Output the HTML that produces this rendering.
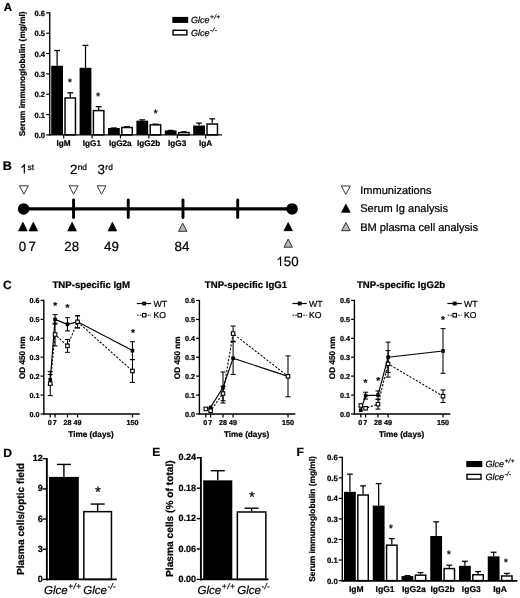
<!DOCTYPE html>
<html><head><meta charset="utf-8"><title>Figure</title>
<style>
html,body{margin:0;padding:0;background:#fff;}
body{width:520px;height:598px;overflow:hidden;}
svg{display:block;will-change:transform;filter:blur(0.4px);}
svg text{font-family:'Liberation Sans',sans-serif;fill:#000;text-rendering:geometricPrecision;stroke:#000;stroke-width:0.22px;}
</style></head><body>
<svg width="520" height="598" viewBox="0 0 520 598">
<rect x="0" y="0" width="520" height="598" fill="#fff"/>
<text x="3.7" y="11.0" style="font-size:11.5px;font-weight:bold;">A</text>
<line x1="57.10" y1="65.74" x2="57.10" y2="50.48" stroke="#000" stroke-width="1.25"/>
<line x1="54.20" y1="50.48" x2="60.00" y2="50.48" stroke="#000" stroke-width="1.25"/>
<rect x="51.20" y="65.74" width="11.80" height="69.16" fill="#000"/>
<line x1="70.25" y1="97.27" x2="70.25" y2="92.79" stroke="#000" stroke-width="1.25"/>
<line x1="67.35" y1="92.79" x2="73.15" y2="92.79" stroke="#000" stroke-width="1.25"/>
<rect x="65.02" y="97.99" width="10.45" height="36.91" fill="#fff" stroke="#000" stroke-width="1.45"/>
<line x1="63.70" y1="134.90" x2="63.70" y2="138.50" stroke="#000" stroke-width="1.2"/>
<text x="63.5" y="146.2" text-anchor="middle" style="font-size:8.2px;font-weight:bold;">IgM</text>
<line x1="85.50" y1="67.77" x2="85.50" y2="45.40" stroke="#000" stroke-width="1.25"/>
<line x1="82.60" y1="45.40" x2="88.40" y2="45.40" stroke="#000" stroke-width="1.25"/>
<rect x="79.60" y="67.77" width="11.80" height="67.13" fill="#000"/>
<line x1="98.65" y1="109.88" x2="98.65" y2="106.63" stroke="#000" stroke-width="1.25"/>
<line x1="95.75" y1="106.63" x2="101.55" y2="106.63" stroke="#000" stroke-width="1.25"/>
<rect x="93.42" y="110.60" width="10.45" height="24.30" fill="#fff" stroke="#000" stroke-width="1.45"/>
<line x1="92.10" y1="134.90" x2="92.10" y2="138.50" stroke="#000" stroke-width="1.2"/>
<text x="91.9" y="146.2" text-anchor="middle" style="font-size:8.2px;font-weight:bold;">IgG1</text>
<line x1="113.90" y1="127.98" x2="113.90" y2="127.98" stroke="#000" stroke-width="1.25"/>
<line x1="111.00" y1="127.98" x2="116.80" y2="127.98" stroke="#000" stroke-width="1.25"/>
<rect x="108.00" y="127.98" width="11.80" height="6.92" fill="#000"/>
<line x1="127.05" y1="126.76" x2="127.05" y2="126.76" stroke="#000" stroke-width="1.25"/>
<line x1="124.15" y1="126.76" x2="129.95" y2="126.76" stroke="#000" stroke-width="1.25"/>
<rect x="121.82" y="127.49" width="10.45" height="7.41" fill="#fff" stroke="#000" stroke-width="1.45"/>
<line x1="120.50" y1="134.90" x2="120.50" y2="138.50" stroke="#000" stroke-width="1.2"/>
<text x="120.3" y="146.2" text-anchor="middle" style="font-size:8.2px;font-weight:bold;">IgG2a</text>
<line x1="142.30" y1="120.66" x2="142.30" y2="119.85" stroke="#000" stroke-width="1.25"/>
<line x1="139.40" y1="119.85" x2="145.20" y2="119.85" stroke="#000" stroke-width="1.25"/>
<rect x="136.40" y="120.66" width="11.80" height="14.24" fill="#000"/>
<line x1="155.45" y1="124.12" x2="155.45" y2="124.12" stroke="#000" stroke-width="1.25"/>
<line x1="152.55" y1="124.12" x2="158.35" y2="124.12" stroke="#000" stroke-width="1.25"/>
<rect x="150.22" y="124.84" width="10.45" height="10.06" fill="#fff" stroke="#000" stroke-width="1.45"/>
<line x1="148.90" y1="134.90" x2="148.90" y2="138.50" stroke="#000" stroke-width="1.2"/>
<text x="148.7" y="146.2" text-anchor="middle" style="font-size:8.2px;font-weight:bold;">IgG2b</text>
<line x1="170.70" y1="130.42" x2="170.70" y2="130.42" stroke="#000" stroke-width="1.25"/>
<line x1="167.80" y1="130.42" x2="173.60" y2="130.42" stroke="#000" stroke-width="1.25"/>
<rect x="164.80" y="130.42" width="11.80" height="4.48" fill="#000"/>
<line x1="183.85" y1="131.85" x2="183.85" y2="131.85" stroke="#000" stroke-width="1.25"/>
<line x1="180.95" y1="131.85" x2="186.75" y2="131.85" stroke="#000" stroke-width="1.25"/>
<rect x="178.62" y="132.57" width="10.45" height="2.33" fill="#fff" stroke="#000" stroke-width="1.45"/>
<line x1="177.30" y1="134.90" x2="177.30" y2="138.50" stroke="#000" stroke-width="1.2"/>
<text x="177.1" y="146.2" text-anchor="middle" style="font-size:8.2px;font-weight:bold;">IgG3</text>
<line x1="199.10" y1="125.54" x2="199.10" y2="123.10" stroke="#000" stroke-width="1.25"/>
<line x1="196.20" y1="123.10" x2="202.00" y2="123.10" stroke="#000" stroke-width="1.25"/>
<rect x="193.20" y="125.54" width="11.80" height="9.36" fill="#000"/>
<line x1="212.25" y1="123.31" x2="212.25" y2="118.83" stroke="#000" stroke-width="1.25"/>
<line x1="209.35" y1="118.83" x2="215.15" y2="118.83" stroke="#000" stroke-width="1.25"/>
<rect x="207.02" y="124.03" width="10.45" height="10.87" fill="#fff" stroke="#000" stroke-width="1.45"/>
<line x1="205.70" y1="134.90" x2="205.70" y2="138.50" stroke="#000" stroke-width="1.2"/>
<text x="205.5" y="146.2" text-anchor="middle" style="font-size:8.2px;font-weight:bold;">IgA</text>
<line x1="49.75" y1="12.23" x2="49.75" y2="135.58" stroke="#000" stroke-width="1.35"/>
<line x1="49.08" y1="134.90" x2="222.00" y2="134.90" stroke="#000" stroke-width="1.35"/>
<line x1="46.15" y1="134.90" x2="49.75" y2="134.90" stroke="#000" stroke-width="1.2"/>
<text x="45.15" y="137.97" text-anchor="end" style="font-size:7.7px;font-weight:bold;">0.0</text>
<line x1="46.15" y1="114.56" x2="49.75" y2="114.56" stroke="#000" stroke-width="1.2"/>
<text x="45.15" y="117.63" text-anchor="end" style="font-size:7.7px;font-weight:bold;">0.1</text>
<line x1="46.15" y1="94.22" x2="49.75" y2="94.22" stroke="#000" stroke-width="1.2"/>
<text x="45.15" y="97.29" text-anchor="end" style="font-size:7.7px;font-weight:bold;">0.2</text>
<line x1="46.15" y1="73.88" x2="49.75" y2="73.88" stroke="#000" stroke-width="1.2"/>
<text x="45.15" y="76.95" text-anchor="end" style="font-size:7.7px;font-weight:bold;">0.3</text>
<line x1="46.15" y1="53.53" x2="49.75" y2="53.53" stroke="#000" stroke-width="1.2"/>
<text x="45.15" y="56.61" text-anchor="end" style="font-size:7.7px;font-weight:bold;">0.4</text>
<line x1="46.15" y1="33.19" x2="49.75" y2="33.19" stroke="#000" stroke-width="1.2"/>
<text x="45.15" y="36.26" text-anchor="end" style="font-size:7.7px;font-weight:bold;">0.5</text>
<line x1="46.15" y1="12.85" x2="49.75" y2="12.85" stroke="#000" stroke-width="1.2"/>
<text x="45.15" y="15.92" text-anchor="end" style="font-size:7.7px;font-weight:bold;">0.6</text>
<text x="70.0" y="86.36" text-anchor="middle" style="font-size:11px;">*</text>
<text x="98.2" y="100.36" text-anchor="middle" style="font-size:11px;">*</text>
<text x="155.6" y="117.16" text-anchor="middle" style="font-size:11px;">*</text>
<text x="24.8" y="73.88" text-anchor="middle" style="font-size:8.3px;font-weight:bold;" transform="rotate(-90 24.8 73.88)">Serum immunoglobulin (mg/ml)</text>
<rect x="172.3" y="16.9" width="15.9" height="6.0" fill="#000"/>
<rect x="173.00" y="30.30" width="13.90" height="4.60" fill="#fff" stroke="#000" stroke-width="1.4"/>
<text x="191.0" y="23.0" style="font-size:9px;font-style:italic;">Glce<tspan dx="0.6" dy="-3.8" style="font-size:6.5px;letter-spacing:0.3px">+/+</tspan></text>
<text x="191.0" y="35.7" style="font-size:9px;font-style:italic;">Glce<tspan dx="0.6" dy="-3.8" style="font-size:6.5px;letter-spacing:0.3px">-/-</tspan></text>
<text x="2.7" y="170.4" style="font-size:12.5px;font-weight:bold;">B</text>
<path d="M24.33,173.60 V164.01 h-0.88 q-0.67,1.47 -2.68,2.68 v1.24 q1.34,-0.54 2.39,-1.54 V173.60 Z" fill="#000" transform="translate(0.59,0)"/>
<text x="27.45" y="169.7" style="font-size:8.4px">st</text>
<text x="69.9" y="173.6" style="font-size:13.4px">2<tspan dx="0.3" dy="-3.9" style="font-size:8.4px">nd</tspan></text>
<text x="97.6" y="173.6" style="font-size:13.4px">3<tspan dx="0.3" dy="-3.9" style="font-size:8.4px">rd</tspan></text>
<polygon points="19.40,185.80 28.40,185.80 23.90,194.20" fill="#fff" stroke="#222" stroke-width="0.9"/>
<polygon points="69.10,185.80 78.10,185.80 73.60,194.20" fill="#fff" stroke="#222" stroke-width="0.9"/>
<polygon points="97.00,185.80 106.00,185.80 101.50,194.20" fill="#fff" stroke="#222" stroke-width="0.9"/>
<line x1="23.60" y1="208.95" x2="292.10" y2="208.95" stroke="#000" stroke-width="3.3"/>
<circle cx="23.6" cy="208.95" r="5.8" fill="#000"/>
<circle cx="292.1" cy="208.95" r="5.8" fill="#000"/>
<line x1="73.55" y1="200.00" x2="73.55" y2="217.60" stroke="#000" stroke-width="2.9" stroke-linecap="round"/>
<line x1="128.27" y1="200.00" x2="128.27" y2="217.60" stroke="#000" stroke-width="2.9" stroke-linecap="round"/>
<line x1="182.98" y1="200.00" x2="182.98" y2="217.60" stroke="#000" stroke-width="2.9" stroke-linecap="round"/>
<line x1="237.70" y1="200.00" x2="237.70" y2="217.60" stroke="#000" stroke-width="2.9" stroke-linecap="round"/>
<polygon points="18.60,230.90 27.20,230.90 22.90,222.30" fill="#000" stroke="#000" stroke-width="0.8"/>
<polygon points="29.00,230.90 37.60,230.90 33.30,222.30" fill="#000" stroke="#000" stroke-width="0.8"/>
<polygon points="67.80,230.90 76.40,230.90 72.10,222.30" fill="#000" stroke="#000" stroke-width="0.8"/>
<polygon points="108.10,230.90 116.70,230.90 112.40,222.30" fill="#000" stroke="#000" stroke-width="0.8"/>
<polygon points="178.50,231.30 186.90,231.30 182.70,223.20" fill="#b8b8b8" stroke="#333" stroke-width="1.0"/>
<polygon points="284.00,230.70 292.40,230.70 288.20,222.60" fill="#000" stroke="#000" stroke-width="0.8"/>
<polygon points="284.00,247.20 292.40,247.20 288.20,239.00" fill="#b8b8b8" stroke="#333" stroke-width="1.0"/>
<text x="22.4" y="251.4" text-anchor="middle" style="font-size:13.3px;">0</text>
<text x="32.2" y="251.4" text-anchor="middle" style="font-size:13.3px;">7</text>
<text x="71.7" y="251.4" text-anchor="middle" style="font-size:13.3px;">28</text>
<text x="111.4" y="251.4" text-anchor="middle" style="font-size:13.3px;">49</text>
<text x="181.9" y="251.4" text-anchor="middle" style="font-size:13.3px;">84</text>
<path d="M280.59,266.00 V256.48 h-0.88 q-0.67,1.46 -2.66,2.66 v1.23 q1.33,-0.53 2.37,-1.53 V266.00 Z" fill="#000" transform="translate(0.59,0)"/>
<text x="283.8" y="266.0" style="font-size:13.3px;">50</text>
<polygon points="341.30,186.00 350.30,186.00 345.80,194.40" fill="#fff" stroke="#222" stroke-width="0.9"/>
<polygon points="341.60,212.30 350.20,212.30 345.90,204.20" fill="#000" stroke="#000" stroke-width="0.8"/>
<polygon points="341.60,230.70 350.20,230.70 345.90,222.60" fill="#b8b8b8" stroke="#333" stroke-width="1.0"/>
<text x="360.2" y="193.8" style="font-size:11.05px;">Immunizations</text>
<text x="360.2" y="212.4" style="font-size:11.05px;">Serum Ig analysis</text>
<text x="360.2" y="230.7" style="font-size:11.05px;">BM plasma cell analysis</text>
<text x="2.9" y="288.6" style="font-size:12px;font-weight:bold;">C</text>
<polyline points="50.25,383.61 55.05,334.51 67.45,345.87 77.55,321.84 132.45,371.04" fill="none" stroke="#000" stroke-width="1.05" stroke-dasharray="2.2 1.5"/>
<polyline points="50.25,379.75 55.05,319.38 67.45,324.30 77.55,321.84 132.45,350.60" fill="none" stroke="#000" stroke-width="1.15"/>
<line x1="50.25" y1="385.04" x2="50.25" y2="374.45" stroke="#000" stroke-width="1.05"/>
<line x1="47.75" y1="374.45" x2="52.75" y2="374.45" stroke="#000" stroke-width="1.05"/>
<line x1="47.75" y1="385.04" x2="52.75" y2="385.04" stroke="#000" stroke-width="1.05"/>
<line x1="55.05" y1="324.11" x2="55.05" y2="314.64" stroke="#000" stroke-width="1.05"/>
<line x1="52.55" y1="314.64" x2="57.55" y2="314.64" stroke="#000" stroke-width="1.05"/>
<line x1="52.55" y1="324.11" x2="57.55" y2="324.11" stroke="#000" stroke-width="1.05"/>
<line x1="67.45" y1="330.92" x2="67.45" y2="317.67" stroke="#000" stroke-width="1.05"/>
<line x1="64.95" y1="317.67" x2="69.95" y2="317.67" stroke="#000" stroke-width="1.05"/>
<line x1="64.95" y1="330.92" x2="69.95" y2="330.92" stroke="#000" stroke-width="1.05"/>
<line x1="77.55" y1="327.89" x2="77.55" y2="315.78" stroke="#000" stroke-width="1.05"/>
<line x1="75.05" y1="315.78" x2="80.05" y2="315.78" stroke="#000" stroke-width="1.05"/>
<line x1="75.05" y1="327.89" x2="80.05" y2="327.89" stroke="#000" stroke-width="1.05"/>
<line x1="132.45" y1="359.50" x2="132.45" y2="341.71" stroke="#000" stroke-width="1.05"/>
<line x1="129.95" y1="341.71" x2="134.95" y2="341.71" stroke="#000" stroke-width="1.05"/>
<line x1="129.95" y1="359.50" x2="134.95" y2="359.50" stroke="#000" stroke-width="1.05"/>
<line x1="50.25" y1="395.62" x2="50.25" y2="371.59" stroke="#000" stroke-width="1.05"/>
<line x1="47.75" y1="371.59" x2="52.75" y2="371.59" stroke="#000" stroke-width="1.05"/>
<line x1="47.75" y1="395.62" x2="52.75" y2="395.62" stroke="#000" stroke-width="1.05"/>
<line x1="55.05" y1="345.87" x2="55.05" y2="323.16" stroke="#000" stroke-width="1.05"/>
<line x1="52.55" y1="323.16" x2="57.55" y2="323.16" stroke="#000" stroke-width="1.05"/>
<line x1="52.55" y1="345.87" x2="57.55" y2="345.87" stroke="#000" stroke-width="1.05"/>
<line x1="67.45" y1="352.30" x2="67.45" y2="339.44" stroke="#000" stroke-width="1.05"/>
<line x1="64.95" y1="339.44" x2="69.95" y2="339.44" stroke="#000" stroke-width="1.05"/>
<line x1="64.95" y1="352.30" x2="69.95" y2="352.30" stroke="#000" stroke-width="1.05"/>
<line x1="77.55" y1="327.89" x2="77.55" y2="315.78" stroke="#000" stroke-width="1.05"/>
<line x1="75.05" y1="315.78" x2="80.05" y2="315.78" stroke="#000" stroke-width="1.05"/>
<line x1="75.05" y1="327.89" x2="80.05" y2="327.89" stroke="#000" stroke-width="1.05"/>
<line x1="132.45" y1="382.40" x2="132.45" y2="359.69" stroke="#000" stroke-width="1.05"/>
<line x1="129.95" y1="359.69" x2="134.95" y2="359.69" stroke="#000" stroke-width="1.05"/>
<line x1="129.95" y1="382.40" x2="134.95" y2="382.40" stroke="#000" stroke-width="1.05"/>
<rect x="48.45" y="377.95" width="3.6" height="3.6" fill="#000"/>
<rect x="53.25" y="317.57" width="3.6" height="3.6" fill="#000"/>
<rect x="65.65" y="322.50" width="3.6" height="3.6" fill="#000"/>
<rect x="75.75" y="320.04" width="3.6" height="3.6" fill="#000"/>
<rect x="130.65" y="348.80" width="3.6" height="3.6" fill="#000"/>
<rect x="48.50" y="381.86" width="3.50" height="3.50" fill="#fff" stroke="#000" stroke-width="1.1"/>
<rect x="53.30" y="332.76" width="3.50" height="3.50" fill="#fff" stroke="#000" stroke-width="1.1"/>
<rect x="65.70" y="344.12" width="3.50" height="3.50" fill="#fff" stroke="#000" stroke-width="1.1"/>
<rect x="75.80" y="320.09" width="3.50" height="3.50" fill="#fff" stroke="#000" stroke-width="1.1"/>
<rect x="130.70" y="369.29" width="3.50" height="3.50" fill="#fff" stroke="#000" stroke-width="1.1"/>
<line x1="43.85" y1="299.83" x2="43.85" y2="414.70" stroke="#000" stroke-width="1.4"/>
<line x1="43.15" y1="414.00" x2="139.75" y2="414.00" stroke="#000" stroke-width="1.4"/>
<line x1="40.55" y1="414.00" x2="43.85" y2="414.00" stroke="#000" stroke-width="1.25"/>
<text x="39.55" y="416.7" text-anchor="end" style="font-size:7.2px;font-weight:bold;">0.0</text>
<line x1="40.55" y1="395.07" x2="43.85" y2="395.07" stroke="#000" stroke-width="1.25"/>
<text x="39.55" y="397.77" text-anchor="end" style="font-size:7.2px;font-weight:bold;">0.1</text>
<line x1="40.55" y1="376.15" x2="43.85" y2="376.15" stroke="#000" stroke-width="1.25"/>
<text x="39.55" y="378.85" text-anchor="end" style="font-size:7.2px;font-weight:bold;">0.2</text>
<line x1="40.55" y1="357.22" x2="43.85" y2="357.22" stroke="#000" stroke-width="1.25"/>
<text x="39.55" y="359.92" text-anchor="end" style="font-size:7.2px;font-weight:bold;">0.3</text>
<line x1="40.55" y1="338.30" x2="43.85" y2="338.30" stroke="#000" stroke-width="1.25"/>
<text x="39.55" y="341.0" text-anchor="end" style="font-size:7.2px;font-weight:bold;">0.4</text>
<line x1="40.55" y1="319.38" x2="43.85" y2="319.38" stroke="#000" stroke-width="1.25"/>
<text x="39.55" y="322.07" text-anchor="end" style="font-size:7.2px;font-weight:bold;">0.5</text>
<line x1="40.55" y1="300.45" x2="43.85" y2="300.45" stroke="#000" stroke-width="1.25"/>
<text x="39.55" y="303.15" text-anchor="end" style="font-size:7.2px;font-weight:bold;">0.6</text>
<line x1="50.25" y1="414.00" x2="50.25" y2="417.50" stroke="#000" stroke-width="1.25"/>
<line x1="55.05" y1="414.00" x2="55.05" y2="417.50" stroke="#000" stroke-width="1.25"/>
<line x1="67.45" y1="414.00" x2="67.45" y2="417.50" stroke="#000" stroke-width="1.25"/>
<line x1="77.55" y1="414.00" x2="77.55" y2="417.50" stroke="#000" stroke-width="1.25"/>
<line x1="132.45" y1="414.00" x2="132.45" y2="417.50" stroke="#000" stroke-width="1.25"/>
<text x="51.75" y="425.0" text-anchor="end" style="font-size:7.2px;font-weight:bold;">0</text>
<text x="52.65" y="425.0" style="font-size:7.2px;font-weight:bold;">7</text>
<text x="67.45" y="425.0" text-anchor="middle" style="font-size:7.2px;font-weight:bold;">28</text>
<text x="77.55" y="425.0" text-anchor="middle" style="font-size:7.2px;font-weight:bold;">49</text>
<text x="132.55" y="425.0" text-anchor="middle" style="font-size:7.2px;font-weight:bold;">150</text>
<text x="91.05" y="436.7" text-anchor="middle" style="font-size:8.2px;font-weight:bold;">Time (days)</text>
<text x="24.55" y="357.73" text-anchor="middle" style="font-size:8.2px;font-weight:bold;" transform="rotate(-90 24.55 357.73)">OD 450 nm</text>
<text x="91.25" y="288.2" text-anchor="middle" style="font-size:9.65px;font-weight:bold;">TNP-specific IgM</text>
<text x="55.2" y="308.7" text-anchor="middle" style="font-size:10px;font-weight:bold;">*</text>
<text x="67.5" y="311.0" text-anchor="middle" style="font-size:10px;font-weight:bold;">*</text>
<text x="132.9" y="335.7" text-anchor="middle" style="font-size:10px;font-weight:bold;">*</text>
<line x1="136.85" y1="303.50" x2="151.15" y2="303.50" stroke="#000" stroke-width="1.2"/>
<rect x="142.25" y="301.60" width="3.8" height="3.8" fill="#000"/>
<text x="153.45" y="306.5" style="font-size:8.8px;">WT</text>
<line x1="137.15" y1="315.20" x2="151.15" y2="315.20" stroke="#000" stroke-width="1.0" stroke-dasharray="1.5 1.15"/>
<rect x="142.40" y="313.45" width="3.50" height="3.50" fill="#fff" stroke="#000" stroke-width="1.1"/>
<text x="153.45" y="318.2" style="font-size:8.6px;">KO</text>
<polyline points="205.80,408.89 210.60,410.78 223.00,393.56 233.10,333.57 288.00,376.34" fill="none" stroke="#000" stroke-width="1.05" stroke-dasharray="2.2 1.5"/>
<polyline points="205.80,409.27 210.60,407.38 223.00,387.50 233.10,358.17 288.00,376.34" fill="none" stroke="#000" stroke-width="1.15"/>
<line x1="223.00" y1="403.02" x2="223.00" y2="371.99" stroke="#000" stroke-width="1.05"/>
<line x1="220.50" y1="371.99" x2="225.50" y2="371.99" stroke="#000" stroke-width="1.05"/>
<line x1="220.50" y1="403.02" x2="225.50" y2="403.02" stroke="#000" stroke-width="1.05"/>
<line x1="233.10" y1="374.45" x2="233.10" y2="341.90" stroke="#000" stroke-width="1.05"/>
<line x1="230.60" y1="341.90" x2="235.60" y2="341.90" stroke="#000" stroke-width="1.05"/>
<line x1="230.60" y1="374.45" x2="235.60" y2="374.45" stroke="#000" stroke-width="1.05"/>
<line x1="288.00" y1="396.78" x2="288.00" y2="355.90" stroke="#000" stroke-width="1.05"/>
<line x1="285.50" y1="355.90" x2="290.50" y2="355.90" stroke="#000" stroke-width="1.05"/>
<line x1="285.50" y1="396.78" x2="290.50" y2="396.78" stroke="#000" stroke-width="1.05"/>
<line x1="223.00" y1="400.75" x2="223.00" y2="386.37" stroke="#000" stroke-width="1.05"/>
<line x1="220.50" y1="386.37" x2="225.50" y2="386.37" stroke="#000" stroke-width="1.05"/>
<line x1="220.50" y1="400.75" x2="225.50" y2="400.75" stroke="#000" stroke-width="1.05"/>
<line x1="233.10" y1="341.14" x2="233.10" y2="326.00" stroke="#000" stroke-width="1.05"/>
<line x1="230.60" y1="326.00" x2="235.60" y2="326.00" stroke="#000" stroke-width="1.05"/>
<line x1="230.60" y1="341.14" x2="235.60" y2="341.14" stroke="#000" stroke-width="1.05"/>
<rect x="204.00" y="407.47" width="3.6" height="3.6" fill="#000"/>
<rect x="208.80" y="405.58" width="3.6" height="3.6" fill="#000"/>
<rect x="221.20" y="385.70" width="3.6" height="3.6" fill="#000"/>
<rect x="231.30" y="356.37" width="3.6" height="3.6" fill="#000"/>
<rect x="286.20" y="374.54" width="3.6" height="3.6" fill="#000"/>
<rect x="204.05" y="407.14" width="3.50" height="3.50" fill="#fff" stroke="#000" stroke-width="1.1"/>
<rect x="208.85" y="409.03" width="3.50" height="3.50" fill="#fff" stroke="#000" stroke-width="1.1"/>
<rect x="221.25" y="391.81" width="3.50" height="3.50" fill="#fff" stroke="#000" stroke-width="1.1"/>
<rect x="231.35" y="331.82" width="3.50" height="3.50" fill="#fff" stroke="#000" stroke-width="1.1"/>
<rect x="286.25" y="374.59" width="3.50" height="3.50" fill="#fff" stroke="#000" stroke-width="1.1"/>
<line x1="199.40" y1="299.83" x2="199.40" y2="414.70" stroke="#000" stroke-width="1.4"/>
<line x1="198.70" y1="414.00" x2="295.30" y2="414.00" stroke="#000" stroke-width="1.4"/>
<line x1="196.10" y1="414.00" x2="199.40" y2="414.00" stroke="#000" stroke-width="1.25"/>
<text x="195.1" y="416.7" text-anchor="end" style="font-size:7.2px;font-weight:bold;">0.0</text>
<line x1="196.10" y1="395.07" x2="199.40" y2="395.07" stroke="#000" stroke-width="1.25"/>
<text x="195.1" y="397.77" text-anchor="end" style="font-size:7.2px;font-weight:bold;">0.1</text>
<line x1="196.10" y1="376.15" x2="199.40" y2="376.15" stroke="#000" stroke-width="1.25"/>
<text x="195.1" y="378.85" text-anchor="end" style="font-size:7.2px;font-weight:bold;">0.2</text>
<line x1="196.10" y1="357.22" x2="199.40" y2="357.22" stroke="#000" stroke-width="1.25"/>
<text x="195.1" y="359.92" text-anchor="end" style="font-size:7.2px;font-weight:bold;">0.3</text>
<line x1="196.10" y1="338.30" x2="199.40" y2="338.30" stroke="#000" stroke-width="1.25"/>
<text x="195.1" y="341.0" text-anchor="end" style="font-size:7.2px;font-weight:bold;">0.4</text>
<line x1="196.10" y1="319.38" x2="199.40" y2="319.38" stroke="#000" stroke-width="1.25"/>
<text x="195.1" y="322.07" text-anchor="end" style="font-size:7.2px;font-weight:bold;">0.5</text>
<line x1="196.10" y1="300.45" x2="199.40" y2="300.45" stroke="#000" stroke-width="1.25"/>
<text x="195.1" y="303.15" text-anchor="end" style="font-size:7.2px;font-weight:bold;">0.6</text>
<line x1="205.80" y1="414.00" x2="205.80" y2="417.50" stroke="#000" stroke-width="1.25"/>
<line x1="210.60" y1="414.00" x2="210.60" y2="417.50" stroke="#000" stroke-width="1.25"/>
<line x1="223.00" y1="414.00" x2="223.00" y2="417.50" stroke="#000" stroke-width="1.25"/>
<line x1="233.10" y1="414.00" x2="233.10" y2="417.50" stroke="#000" stroke-width="1.25"/>
<line x1="288.00" y1="414.00" x2="288.00" y2="417.50" stroke="#000" stroke-width="1.25"/>
<text x="207.3" y="425.0" text-anchor="end" style="font-size:7.2px;font-weight:bold;">0</text>
<text x="208.2" y="425.0" style="font-size:7.2px;font-weight:bold;">7</text>
<text x="223.0" y="425.0" text-anchor="middle" style="font-size:7.2px;font-weight:bold;">28</text>
<text x="233.1" y="425.0" text-anchor="middle" style="font-size:7.2px;font-weight:bold;">49</text>
<text x="288.1" y="425.0" text-anchor="middle" style="font-size:7.2px;font-weight:bold;">150</text>
<text x="246.6" y="436.7" text-anchor="middle" style="font-size:8.2px;font-weight:bold;">Time (days)</text>
<text x="180.1" y="357.73" text-anchor="middle" style="font-size:8.2px;font-weight:bold;" transform="rotate(-90 180.1 357.73)">OD 450 nm</text>
<text x="246.0" y="288.2" text-anchor="middle" style="font-size:9.65px;font-weight:bold;">TNP-specific IgG1</text>
<line x1="292.40" y1="303.50" x2="306.70" y2="303.50" stroke="#000" stroke-width="1.2"/>
<rect x="297.80" y="301.60" width="3.8" height="3.8" fill="#000"/>
<text x="309.0" y="306.5" style="font-size:8.8px;">WT</text>
<line x1="292.70" y1="315.20" x2="306.70" y2="315.20" stroke="#000" stroke-width="1.0" stroke-dasharray="1.5 1.15"/>
<rect x="297.95" y="313.45" width="3.50" height="3.50" fill="#fff" stroke="#000" stroke-width="1.1"/>
<text x="309.0" y="318.2" style="font-size:8.6px;">KO</text>
<polyline points="360.80,405.48 365.60,408.32 378.00,404.16 388.10,363.85 443.00,396.21" fill="none" stroke="#000" stroke-width="1.05" stroke-dasharray="2.2 1.5"/>
<polyline points="360.80,410.21 365.60,395.64 378.00,395.07 388.10,357.23 443.00,350.98" fill="none" stroke="#000" stroke-width="1.15"/>
<line x1="365.60" y1="399.05" x2="365.60" y2="392.24" stroke="#000" stroke-width="1.05"/>
<line x1="363.10" y1="392.24" x2="368.10" y2="392.24" stroke="#000" stroke-width="1.05"/>
<line x1="363.10" y1="399.05" x2="368.10" y2="399.05" stroke="#000" stroke-width="1.05"/>
<line x1="378.00" y1="399.24" x2="378.00" y2="390.91" stroke="#000" stroke-width="1.05"/>
<line x1="375.50" y1="390.91" x2="380.50" y2="390.91" stroke="#000" stroke-width="1.05"/>
<line x1="375.50" y1="399.24" x2="380.50" y2="399.24" stroke="#000" stroke-width="1.05"/>
<line x1="388.10" y1="372.37" x2="388.10" y2="342.08" stroke="#000" stroke-width="1.05"/>
<line x1="385.60" y1="342.08" x2="390.60" y2="342.08" stroke="#000" stroke-width="1.05"/>
<line x1="385.60" y1="372.37" x2="390.60" y2="372.37" stroke="#000" stroke-width="1.05"/>
<line x1="443.00" y1="373.31" x2="443.00" y2="328.65" stroke="#000" stroke-width="1.05"/>
<line x1="440.50" y1="328.65" x2="445.50" y2="328.65" stroke="#000" stroke-width="1.05"/>
<line x1="440.50" y1="373.31" x2="445.50" y2="373.31" stroke="#000" stroke-width="1.05"/>
<line x1="378.00" y1="409.08" x2="378.00" y2="399.24" stroke="#000" stroke-width="1.05"/>
<line x1="375.50" y1="399.24" x2="380.50" y2="399.24" stroke="#000" stroke-width="1.05"/>
<line x1="375.50" y1="409.08" x2="380.50" y2="409.08" stroke="#000" stroke-width="1.05"/>
<line x1="388.10" y1="377.10" x2="388.10" y2="350.60" stroke="#000" stroke-width="1.05"/>
<line x1="385.60" y1="350.60" x2="390.60" y2="350.60" stroke="#000" stroke-width="1.05"/>
<line x1="385.60" y1="377.10" x2="390.60" y2="377.10" stroke="#000" stroke-width="1.05"/>
<line x1="443.00" y1="402.46" x2="443.00" y2="389.97" stroke="#000" stroke-width="1.05"/>
<line x1="440.50" y1="389.97" x2="445.50" y2="389.97" stroke="#000" stroke-width="1.05"/>
<line x1="440.50" y1="402.46" x2="445.50" y2="402.46" stroke="#000" stroke-width="1.05"/>
<rect x="359.00" y="408.41" width="3.6" height="3.6" fill="#000"/>
<rect x="363.80" y="393.84" width="3.6" height="3.6" fill="#000"/>
<rect x="376.20" y="393.27" width="3.6" height="3.6" fill="#000"/>
<rect x="386.30" y="355.43" width="3.6" height="3.6" fill="#000"/>
<rect x="441.20" y="349.18" width="3.6" height="3.6" fill="#000"/>
<rect x="359.05" y="403.73" width="3.50" height="3.50" fill="#fff" stroke="#000" stroke-width="1.1"/>
<rect x="363.85" y="406.57" width="3.50" height="3.50" fill="#fff" stroke="#000" stroke-width="1.1"/>
<rect x="376.25" y="402.41" width="3.50" height="3.50" fill="#fff" stroke="#000" stroke-width="1.1"/>
<rect x="386.35" y="362.10" width="3.50" height="3.50" fill="#fff" stroke="#000" stroke-width="1.1"/>
<rect x="441.25" y="394.46" width="3.50" height="3.50" fill="#fff" stroke="#000" stroke-width="1.1"/>
<line x1="354.40" y1="299.83" x2="354.40" y2="414.70" stroke="#000" stroke-width="1.4"/>
<line x1="353.70" y1="414.00" x2="450.30" y2="414.00" stroke="#000" stroke-width="1.4"/>
<line x1="351.10" y1="414.00" x2="354.40" y2="414.00" stroke="#000" stroke-width="1.25"/>
<text x="350.1" y="416.7" text-anchor="end" style="font-size:7.2px;font-weight:bold;">0.0</text>
<line x1="351.10" y1="395.07" x2="354.40" y2="395.07" stroke="#000" stroke-width="1.25"/>
<text x="350.1" y="397.77" text-anchor="end" style="font-size:7.2px;font-weight:bold;">0.1</text>
<line x1="351.10" y1="376.15" x2="354.40" y2="376.15" stroke="#000" stroke-width="1.25"/>
<text x="350.1" y="378.85" text-anchor="end" style="font-size:7.2px;font-weight:bold;">0.2</text>
<line x1="351.10" y1="357.22" x2="354.40" y2="357.22" stroke="#000" stroke-width="1.25"/>
<text x="350.1" y="359.92" text-anchor="end" style="font-size:7.2px;font-weight:bold;">0.3</text>
<line x1="351.10" y1="338.30" x2="354.40" y2="338.30" stroke="#000" stroke-width="1.25"/>
<text x="350.1" y="341.0" text-anchor="end" style="font-size:7.2px;font-weight:bold;">0.4</text>
<line x1="351.10" y1="319.38" x2="354.40" y2="319.38" stroke="#000" stroke-width="1.25"/>
<text x="350.1" y="322.07" text-anchor="end" style="font-size:7.2px;font-weight:bold;">0.5</text>
<line x1="351.10" y1="300.45" x2="354.40" y2="300.45" stroke="#000" stroke-width="1.25"/>
<text x="350.1" y="303.15" text-anchor="end" style="font-size:7.2px;font-weight:bold;">0.6</text>
<line x1="360.80" y1="414.00" x2="360.80" y2="417.50" stroke="#000" stroke-width="1.25"/>
<line x1="365.60" y1="414.00" x2="365.60" y2="417.50" stroke="#000" stroke-width="1.25"/>
<line x1="378.00" y1="414.00" x2="378.00" y2="417.50" stroke="#000" stroke-width="1.25"/>
<line x1="388.10" y1="414.00" x2="388.10" y2="417.50" stroke="#000" stroke-width="1.25"/>
<line x1="443.00" y1="414.00" x2="443.00" y2="417.50" stroke="#000" stroke-width="1.25"/>
<text x="362.3" y="425.0" text-anchor="end" style="font-size:7.2px;font-weight:bold;">0</text>
<text x="363.2" y="425.0" style="font-size:7.2px;font-weight:bold;">7</text>
<text x="378.0" y="425.0" text-anchor="middle" style="font-size:7.2px;font-weight:bold;">28</text>
<text x="388.1" y="425.0" text-anchor="middle" style="font-size:7.2px;font-weight:bold;">49</text>
<text x="443.1" y="425.0" text-anchor="middle" style="font-size:7.2px;font-weight:bold;">150</text>
<text x="401.6" y="436.7" text-anchor="middle" style="font-size:8.2px;font-weight:bold;">Time (days)</text>
<text x="335.1" y="357.73" text-anchor="middle" style="font-size:8.2px;font-weight:bold;" transform="rotate(-90 335.1 357.73)">OD 450 nm</text>
<text x="401.0" y="288.2" text-anchor="middle" style="font-size:9.65px;font-weight:bold;">TNP-specific IgG2b</text>
<text x="365.4" y="386.1" text-anchor="middle" style="font-size:10px;font-weight:bold;">*</text>
<text x="378.2" y="384.4" text-anchor="middle" style="font-size:10px;font-weight:bold;">*</text>
<text x="443.0" y="322.8" text-anchor="middle" style="font-size:10px;font-weight:bold;">*</text>
<line x1="447.40" y1="303.50" x2="461.70" y2="303.50" stroke="#000" stroke-width="1.2"/>
<rect x="452.80" y="301.60" width="3.8" height="3.8" fill="#000"/>
<text x="464.0" y="306.5" style="font-size:8.8px;">WT</text>
<line x1="447.70" y1="315.20" x2="461.70" y2="315.20" stroke="#000" stroke-width="1.0" stroke-dasharray="1.5 1.15"/>
<rect x="452.95" y="313.45" width="3.50" height="3.50" fill="#fff" stroke="#000" stroke-width="1.1"/>
<text x="464.0" y="318.2" style="font-size:8.6px;">KO</text>
<text x="3.2" y="456.5" style="font-size:12px;font-weight:bold;">D</text>
<line x1="63.90" y1="476.91" x2="63.90" y2="464.43" stroke="#000" stroke-width="1.4"/>
<line x1="56.90" y1="464.43" x2="70.90" y2="464.43" stroke="#000" stroke-width="1.4"/>
<rect x="49.00" y="476.91" width="29.80" height="102.49" fill="#000"/>
<line x1="97.65" y1="510.90" x2="97.65" y2="504.06" stroke="#000" stroke-width="1.4"/>
<line x1="90.65" y1="504.06" x2="104.65" y2="504.06" stroke="#000" stroke-width="1.4"/>
<rect x="83.85" y="511.65" width="27.60" height="67.75" fill="#fff" stroke="#000" stroke-width="1.5"/>
<line x1="46.85" y1="458.00" x2="46.85" y2="580.35" stroke="#000" stroke-width="1.9"/>
<line x1="45.90" y1="579.40" x2="116.80" y2="579.40" stroke="#000" stroke-width="1.9"/>
<line x1="42.65" y1="579.40" x2="46.85" y2="579.40" stroke="#000" stroke-width="1.4"/>
<text x="42.65" y="581.94" text-anchor="end" style="font-size:9px;font-weight:bold;">0</text>
<line x1="42.65" y1="549.23" x2="46.85" y2="549.23" stroke="#000" stroke-width="1.4"/>
<text x="42.65" y="551.76" text-anchor="end" style="font-size:9px;font-weight:bold;">3</text>
<line x1="42.65" y1="519.05" x2="46.85" y2="519.05" stroke="#000" stroke-width="1.4"/>
<text x="42.65" y="521.59" text-anchor="end" style="font-size:9px;font-weight:bold;">6</text>
<line x1="42.65" y1="488.88" x2="46.85" y2="488.88" stroke="#000" stroke-width="1.4"/>
<text x="42.65" y="491.42" text-anchor="end" style="font-size:9px;font-weight:bold;">9</text>
<line x1="42.65" y1="458.70" x2="46.85" y2="458.70" stroke="#000" stroke-width="1.4"/>
<text x="42.65" y="461.24" text-anchor="end" style="font-size:9px;font-weight:bold;">12</text>
<text x="97.8" y="496.8" text-anchor="middle" style="font-size:15px;">*</text>
<text x="23.9" y="519.05" text-anchor="middle" style="font-size:10.2px;font-weight:bold;" transform="rotate(-90 23.9 519.05)">Plasma cells/optic field</text>
<text x="44.0" y="594.0" style="font-size:11.5px;font-style:italic;">Glce<tspan dx="0.6" dy="-4.7" style="font-size:8.2px;letter-spacing:0.5px">+/+</tspan></text>
<text x="83.2" y="594.0" style="font-size:11.5px;font-style:italic;">Glce<tspan dx="0.6" dy="-4.7" style="font-size:8.2px;letter-spacing:0.3px">-/-</tspan></text>
<text x="152.2" y="456.3" style="font-size:12px;font-weight:bold;">E</text>
<line x1="217.75" y1="480.35" x2="217.75" y2="470.72" stroke="#000" stroke-width="1.4"/>
<line x1="210.75" y1="470.72" x2="224.75" y2="470.72" stroke="#000" stroke-width="1.4"/>
<rect x="203.20" y="480.35" width="29.10" height="99.05" fill="#000"/>
<line x1="251.60" y1="511.25" x2="251.60" y2="508.21" stroke="#000" stroke-width="1.4"/>
<line x1="244.60" y1="508.21" x2="258.60" y2="508.21" stroke="#000" stroke-width="1.4"/>
<rect x="237.35" y="512.00" width="28.50" height="67.40" fill="#fff" stroke="#000" stroke-width="1.5"/>
<line x1="200.90" y1="457.10" x2="200.90" y2="580.35" stroke="#000" stroke-width="1.9"/>
<line x1="199.95" y1="579.40" x2="268.50" y2="579.40" stroke="#000" stroke-width="1.9"/>
<line x1="196.70" y1="579.40" x2="200.90" y2="579.40" stroke="#000" stroke-width="1.4"/>
<text x="196.0" y="581.94" text-anchor="end" style="font-size:9px;font-weight:bold;">0.00</text>
<line x1="196.70" y1="549.00" x2="200.90" y2="549.00" stroke="#000" stroke-width="1.4"/>
<text x="196.0" y="551.54" text-anchor="end" style="font-size:9px;font-weight:bold;">0.06</text>
<line x1="196.70" y1="518.60" x2="200.90" y2="518.60" stroke="#000" stroke-width="1.4"/>
<text x="196.0" y="521.14" text-anchor="end" style="font-size:9px;font-weight:bold;">0.12</text>
<line x1="196.70" y1="488.20" x2="200.90" y2="488.20" stroke="#000" stroke-width="1.4"/>
<text x="196.0" y="490.74" text-anchor="end" style="font-size:9px;font-weight:bold;">0.18</text>
<line x1="196.70" y1="457.80" x2="200.90" y2="457.80" stroke="#000" stroke-width="1.4"/>
<text x="196.0" y="460.34" text-anchor="end" style="font-size:9px;font-weight:bold;">0.24</text>
<text x="252.0" y="501.8" text-anchor="middle" style="font-size:15px;">*</text>
<text x="173.4" y="518.6" text-anchor="middle" style="font-size:10.2px;font-weight:bold;" transform="rotate(-90 173.4 518.6)">Plasma cells (% of total)</text>
<text x="197.6" y="594.0" style="font-size:11.5px;font-style:italic;">Glce<tspan dx="0.6" dy="-4.7" style="font-size:8.2px;letter-spacing:0.5px">+/+</tspan></text>
<text x="237.2" y="594.0" style="font-size:11.5px;font-style:italic;">Glce<tspan dx="0.6" dy="-4.7" style="font-size:8.2px;letter-spacing:0.3px">-/-</tspan></text>
<text x="296.5" y="456.3" style="font-size:12px;font-weight:bold;">F</text>
<line x1="349.90" y1="491.82" x2="349.90" y2="474.15" stroke="#000" stroke-width="1.25"/>
<line x1="347.00" y1="474.15" x2="352.80" y2="474.15" stroke="#000" stroke-width="1.25"/>
<rect x="344.00" y="491.82" width="11.80" height="88.78" fill="#000"/>
<line x1="363.05" y1="494.29" x2="363.05" y2="485.86" stroke="#000" stroke-width="1.25"/>
<line x1="360.15" y1="485.86" x2="365.95" y2="485.86" stroke="#000" stroke-width="1.25"/>
<rect x="357.83" y="495.02" width="10.45" height="85.59" fill="#fff" stroke="#000" stroke-width="1.45"/>
<text x="356.3" y="591.9" text-anchor="middle" style="font-size:8.5px;font-weight:bold;">IgM</text>
<line x1="378.65" y1="505.59" x2="378.65" y2="483.60" stroke="#000" stroke-width="1.25"/>
<line x1="375.75" y1="483.60" x2="381.55" y2="483.60" stroke="#000" stroke-width="1.25"/>
<rect x="372.75" y="505.59" width="11.80" height="75.01" fill="#000"/>
<line x1="391.80" y1="544.43" x2="391.80" y2="538.68" stroke="#000" stroke-width="1.25"/>
<line x1="388.90" y1="538.68" x2="394.70" y2="538.68" stroke="#000" stroke-width="1.25"/>
<rect x="386.58" y="545.16" width="10.45" height="35.44" fill="#fff" stroke="#000" stroke-width="1.45"/>
<text x="385.05" y="591.9" text-anchor="middle" style="font-size:8.5px;font-weight:bold;">IgG1</text>
<line x1="407.40" y1="576.08" x2="407.40" y2="575.67" stroke="#000" stroke-width="1.25"/>
<line x1="404.50" y1="575.67" x2="410.30" y2="575.67" stroke="#000" stroke-width="1.25"/>
<rect x="401.50" y="576.08" width="11.80" height="4.52" fill="#000"/>
<line x1="420.55" y1="574.44" x2="420.55" y2="572.59" stroke="#000" stroke-width="1.25"/>
<line x1="417.65" y1="572.59" x2="423.45" y2="572.59" stroke="#000" stroke-width="1.25"/>
<rect x="415.33" y="575.16" width="10.45" height="5.44" fill="#fff" stroke="#000" stroke-width="1.45"/>
<text x="413.8" y="591.9" text-anchor="middle" style="font-size:8.5px;font-weight:bold;">IgG2a</text>
<line x1="436.15" y1="536.01" x2="436.15" y2="521.83" stroke="#000" stroke-width="1.25"/>
<line x1="433.25" y1="521.83" x2="439.05" y2="521.83" stroke="#000" stroke-width="1.25"/>
<rect x="430.25" y="536.01" width="11.80" height="44.59" fill="#000"/>
<line x1="449.30" y1="567.86" x2="449.30" y2="565.19" stroke="#000" stroke-width="1.25"/>
<line x1="446.40" y1="565.19" x2="452.20" y2="565.19" stroke="#000" stroke-width="1.25"/>
<rect x="444.08" y="568.58" width="10.45" height="12.02" fill="#fff" stroke="#000" stroke-width="1.45"/>
<text x="442.55" y="591.9" text-anchor="middle" style="font-size:8.5px;font-weight:bold;">IgG2b</text>
<line x1="464.90" y1="565.80" x2="464.90" y2="561.28" stroke="#000" stroke-width="1.25"/>
<line x1="462.00" y1="561.28" x2="467.80" y2="561.28" stroke="#000" stroke-width="1.25"/>
<rect x="459.00" y="565.80" width="11.80" height="14.80" fill="#000"/>
<line x1="478.05" y1="574.02" x2="478.05" y2="571.56" stroke="#000" stroke-width="1.25"/>
<line x1="475.15" y1="571.56" x2="480.95" y2="571.56" stroke="#000" stroke-width="1.25"/>
<rect x="472.83" y="574.75" width="10.45" height="5.85" fill="#fff" stroke="#000" stroke-width="1.45"/>
<text x="471.3" y="591.9" text-anchor="middle" style="font-size:8.5px;font-weight:bold;">IgG3</text>
<line x1="493.65" y1="556.35" x2="493.65" y2="552.24" stroke="#000" stroke-width="1.25"/>
<line x1="490.75" y1="552.24" x2="496.55" y2="552.24" stroke="#000" stroke-width="1.25"/>
<rect x="487.75" y="556.35" width="11.80" height="24.25" fill="#000"/>
<line x1="506.80" y1="575.26" x2="506.80" y2="573.41" stroke="#000" stroke-width="1.25"/>
<line x1="503.90" y1="573.41" x2="509.70" y2="573.41" stroke="#000" stroke-width="1.25"/>
<rect x="501.58" y="575.98" width="10.45" height="4.62" fill="#fff" stroke="#000" stroke-width="1.45"/>
<text x="500.05" y="591.9" text-anchor="middle" style="font-size:8.5px;font-weight:bold;">IgA</text>
<line x1="342.30" y1="456.68" x2="342.30" y2="581.27" stroke="#000" stroke-width="1.35"/>
<line x1="341.62" y1="580.88" x2="517.30" y2="580.88" stroke="#000" stroke-width="1.9"/>
<line x1="338.70" y1="580.60" x2="342.30" y2="580.60" stroke="#000" stroke-width="1.2"/>
<text x="337.7" y="583.67" text-anchor="end" style="font-size:7.7px;font-weight:bold;">0.0</text>
<line x1="338.70" y1="560.05" x2="342.30" y2="560.05" stroke="#000" stroke-width="1.2"/>
<text x="337.7" y="563.12" text-anchor="end" style="font-size:7.7px;font-weight:bold;">0.1</text>
<line x1="338.70" y1="539.50" x2="342.30" y2="539.50" stroke="#000" stroke-width="1.2"/>
<text x="337.7" y="542.57" text-anchor="end" style="font-size:7.7px;font-weight:bold;">0.2</text>
<line x1="338.70" y1="518.95" x2="342.30" y2="518.95" stroke="#000" stroke-width="1.2"/>
<text x="337.7" y="522.02" text-anchor="end" style="font-size:7.7px;font-weight:bold;">0.3</text>
<line x1="338.70" y1="498.40" x2="342.30" y2="498.40" stroke="#000" stroke-width="1.2"/>
<text x="337.7" y="501.47" text-anchor="end" style="font-size:7.7px;font-weight:bold;">0.4</text>
<line x1="338.70" y1="477.85" x2="342.30" y2="477.85" stroke="#000" stroke-width="1.2"/>
<text x="337.7" y="480.92" text-anchor="end" style="font-size:7.7px;font-weight:bold;">0.5</text>
<line x1="338.70" y1="457.30" x2="342.30" y2="457.30" stroke="#000" stroke-width="1.2"/>
<text x="337.7" y="460.37" text-anchor="end" style="font-size:7.7px;font-weight:bold;">0.6</text>
<text x="391.0" y="531.76" text-anchor="middle" style="font-size:11px;">*</text>
<text x="449.0" y="557.56" text-anchor="middle" style="font-size:11px;">*</text>
<text x="506.0" y="565.96" text-anchor="middle" style="font-size:11px;">*</text>
<text x="315.2" y="518.95" text-anchor="middle" style="font-size:8.35px;font-weight:bold;" transform="rotate(-90 315.2 518.95)">Serum immunoglobulin (mg/ml)</text>
<rect x="466.3" y="461.0" width="16.0" height="6.1" fill="#000"/>
<rect x="467.00" y="474.40" width="14.00" height="4.70" fill="#fff" stroke="#000" stroke-width="1.4"/>
<text x="485.4" y="467.2" style="font-size:9px;font-style:italic;">Glce<tspan dx="0.6" dy="-3.8" style="font-size:6.5px;letter-spacing:0.3px">+/+</tspan></text>
<text x="485.4" y="479.9" style="font-size:9px;font-style:italic;">Glce<tspan dx="0.6" dy="-3.8" style="font-size:6.5px;letter-spacing:0.3px">-/-</tspan></text>
</svg>
</body></html>
